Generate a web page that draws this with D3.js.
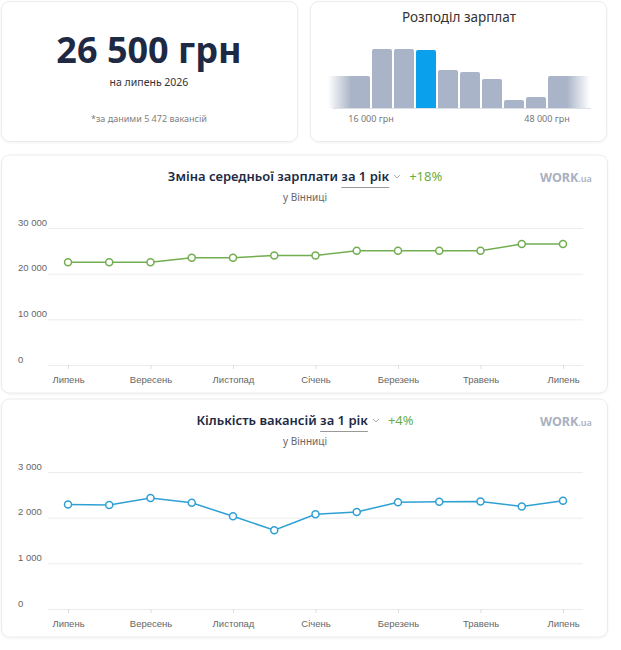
<!DOCTYPE html>
<html lang="uk">
<head>
    <meta charset="UTF-8">
    <title>Зарплати у Вінниці</title>
    <style>
        body { margin: 0; background: #fff; }
        svg { display: block; font-family: "Noto Sans", sans-serif; }
        .card { fill: #fff; stroke: #ebebeb; stroke-width: 1; }
        .grid line { stroke: #ececec; }
        .axis text { font-size: 9.5px; fill: #666; }
        .axis .domain { display: none; }
        .x-axis line { stroke: #ddd; }
    </style>
</head>
<body>
    <svg width="621" height="650"></svg>
    <script src="https://d3js.org/d3.v7.min.js"></script>
    <script>
        // --- data ---
        const months = ["Липень", "Серпень", "Вересень", "Жовтень", "Листопад", "Грудень",
            "Січень", "Лютий", "Березень", "Квітень", "Травень", "Червень", "Липень"];
        const salary = [22500, 22500, 22500, 23500, 23500, 24000, 24000, 25000, 25000, 25000, 25000, 26500, 26500];
        const vacancies = [2290, 2275, 2430, 2325, 2030, 1725, 2075, 2125, 2335, 2350, 2355, 2245, 2370];
        const salaryTicks = [0, 10000, 20000, 30000];
        const vacancyTicks = [0, 1000, 2000, 3000];

        const histFrom = [8000, 16000, 20000, 24000, 28000, 32000, 36000, 40000, 44000, 48000];
        const histTo = [16000, 20000, 24000, 28000, 32000, 36000, 40000, 44000, 48000, 56000];
        const histShare = [32, 59, 59, 58, 38, 36, 29, 8, 11, 32];
        const histLabels = [16000, 48000];
        const currentSalary = 26500;
        const vacancyTotal = 5472;

        const fmt = d3.formatLocale({decimal: ",", thousands: " ", grouping: [3], currency: ["", ""]}).format(",");

        const svg = d3.select("svg");
        const defs = svg.append("defs");

        const shadow = defs.append("filter").attr("id", "sh").attr("x", "-5%").attr("y", "-5%")
            .attr("width", "110%").attr("height", "115%");
        shadow.append("feDropShadow").attr("dx", 0).attr("dy", 1).attr("stdDeviation", 1.2)
            .attr("flood-color", "#000").attr("flood-opacity", 0.05);

        function card(x, y, w, h) {
            svg.append("rect").attr("class", "card")
                .attr("x", x).attr("y", y).attr("width", w).attr("height", h)
                .attr("rx", 8).attr("filter", "url(#sh)");
        }

        // --- top left: average salary ---
        card(1.5, 1.5, 296, 140);
        svg.append("text").attr("x", 149).attr("y", 63).attr("text-anchor", "middle")
            .style("font-size", "36px").style("font-weight", 700).style("fill", "#1e2a44")
            .text(fmt(currentSalary) + " грн");
        svg.append("text").attr("x", 149).attr("y", 86).attr("text-anchor", "middle")
            .style("font-size", "10.5px").style("fill", "#333")
            .text("на липень 2026");
        svg.append("text").attr("x", 149).attr("y", 122).attr("text-anchor", "middle")
            .style("font-size", "9px").style("fill", "#808080")
            .text("*за даними " + fmt(vacancyTotal) + " вакансій");

        // --- top right: salary distribution ---
        card(310.5, 1.5, 296, 140);
        svg.append("text").attr("x", 459).attr("y", 22).attr("text-anchor", "middle")
            .style("font-size", "13.5px").style("fill", "#333")
            .text("Розподіл зарплат");

        const hx = d3.scaleLinear().domain([16000, 48000]).range([371, 547]);
        const hy = d3.scaleLinear().domain([0, 59]).range([108, 49]);

        const fadeL = defs.append("linearGradient").attr("id", "fadeL");
        fadeL.append("stop").attr("offset", "0%").attr("stop-color", "#aab4c8").attr("stop-opacity", 0);
        fadeL.append("stop").attr("offset", "55%").attr("stop-color", "#aab4c8").attr("stop-opacity", 1);
        const fadeR = defs.append("linearGradient").attr("id", "fadeR");
        fadeR.append("stop").attr("offset", "45%").attr("stop-color", "#aab4c8").attr("stop-opacity", 1);
        fadeR.append("stop").attr("offset", "100%").attr("stop-color", "#aab4c8").attr("stop-opacity", 0);

        svg.append("line").attr("x1", hx(9000)).attr("x2", hx(56000)).attr("y1", 108.5).attr("y2", 108.5)
            .attr("stroke", "#dde1e8");

        svg.append("g").selectAll("path")
            .data(histShare)
            .join("path")
            .attr("d", (d, i) => {
                const x0 = hx(histFrom[i]) + 1, x1 = hx(histTo[i]) - 1, y0 = hy(d), yb = hy(0), r = 2;
                return `M${x0},${yb}V${y0 + r}Q${x0},${y0} ${x0 + r},${y0}H${x1 - r}Q${x1},${y0} ${x1},${y0 + r}V${yb}Z`;
            })
            .attr("fill", (d, i) => {
                if (currentSalary >= histFrom[i] && currentSalary < histTo[i]) return "#0aa0ec";
                if (i === 0) return "url(#fadeL)";
                if (i === histShare.length - 1) return "url(#fadeR)";
                return "#aab4c8";
            });

        svg.append("g").selectAll("text")
            .data(histLabels)
            .join("text")
            .attr("x", d => hx(d)).attr("y", 122).attr("text-anchor", "middle")
            .style("font-size", "9px").style("fill", "#777")
            .text(d => fmt(d) + " грн");

        // --- line chart cards ---
        function lineCard(top, title, change, values, ticks, color) {
            card(1.5, top, 606, 238);

            // title
            const t = svg.append("text").attr("y", top + 26)
                .style("font-size", "13px").style("font-weight", 600).style("fill", "#1e2a44");
            t.append("tspan").text(title + " ");
            const per = t.append("tspan").text("за 1 рік");
            const chg = t.append("tspan").attr("dx", 20).style("font-weight", 400).style("fill", "#6aad45").text(change);
            const w = t.node().getComputedTextLength() + 20;
            const x0 = 305 - w / 2;
            t.attr("x", x0);
            const perX = x0 + t.node().getSubStringLength(0, title.length + 1);
            const perW = per.node().getComputedTextLength();
            svg.append("line").attr("x1", perX).attr("x2", perX + perW)
                .attr("y1", top + 32.5).attr("y2", top + 32.5).attr("stroke", "#999");
            const cx = perX + perW + 8;
            svg.append("path").attr("d", `M${cx - 3},${top + 20}L${cx},${top + 23}L${cx + 3},${top + 20}`)
                .attr("fill", "none").attr("stroke", "#aaa").attr("stroke-width", 1);

            svg.append("text").attr("x", 305).attr("y", top + 46).attr("text-anchor", "middle")
                .style("font-size", "10px").style("fill", "#666").text("у Вінниці");

            // logo
            const logo = svg.append("text").attr("x", 540).attr("y", top + 27)
                .style("fill", "#a9b1bf");
            logo.append("tspan").style("font-size", "12.5px").style("font-weight", 700).text("WORK");
            logo.append("tspan").style("font-size", "9px").style("font-weight", 600).text(".ua");

            const x = d3.scaleLinear().domain([0, values.length - 1]).range([68, 563]);
            const y = d3.scaleLinear().domain([0, ticks[ticks.length - 1]]).range([top + 210, top + 73]);

            const gy = svg.append("g").attr("class", "axis grid")
                .attr("transform", "translate(48,0)")
                .call(d3.axisLeft(y).tickValues(ticks).tickSize(-535).tickFormat(fmt));
            gy.selectAll("text").attr("x", -30).attr("dy", -3).style("text-anchor", "start");
            gy.selectAll("line").filter(d => d === 0).attr("stroke", "#e2e2e2");

            svg.append("g").attr("class", "axis x-axis")
                .attr("transform", `translate(0,${y(0)})`)
                .call(d3.axisBottom(x).tickValues(d3.range(0, values.length, 2))
                    .tickSize(4).tickPadding(7).tickFormat(i => months[i]));

            const line = d3.line().x((d, i) => x(i)).y(d => y(d));
            svg.append("path").datum(values).attr("d", line)
                .attr("fill", "none").attr("stroke", color).attr("stroke-width", 1.5);
            svg.append("g").selectAll("circle")
                .data(values)
                .join("circle")
                .attr("cx", (d, i) => x(i)).attr("cy", d => y(d)).attr("r", 3.5)
                .attr("fill", "#fff").attr("stroke", color).attr("stroke-width", 1.5);
        }

        lineCard(155, "Зміна середньої зарплати", "+18%", salary, salaryTicks, "#72ad51");
        lineCard(399, "Кількість вакансій", "+4%", vacancies, vacancyTicks, "#2fa0d4");
    </script>
</body>
</html>
